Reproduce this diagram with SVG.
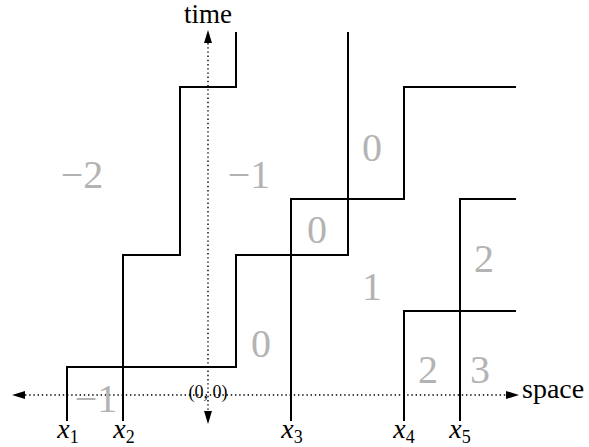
<svg xmlns="http://www.w3.org/2000/svg" width="589" height="447" viewBox="0 0 589 447">
<style>
.ln{fill:none;stroke:#000;stroke-width:2;stroke-linejoin:miter;stroke-linecap:butt}
.ax{fill:none;stroke:#000;stroke-width:1.4;stroke-dasharray:1.4 2.8}
.ah{fill:#000}
text{font-family:'Liberation Serif','Times New Roman',serif}
.t{fill:#000}
.g{fill:#b3b3b3;font-size:40px;text-anchor:middle}
.xl{fill:#000;font-size:28px;text-anchor:middle}
</style>
<rect width="589" height="447" fill="#fff"/>
<g id="axes">
<line class="ax" x1="25" y1="395" x2="506" y2="395"/>
<line class="ax" x1="208" y1="43" x2="208" y2="411"/>
<polygon class="ah" points="12,395 25,391 25,399"/>
<polygon class="ah" points="519,395 506,391 506,399"/>
<polygon class="ah" points="208,30 204,43 212,43"/>
<polygon class="ah" points="208,424 204,411 212,411"/>
<text class="t" x="208" y="23" font-size="27" text-anchor="middle">time</text>
<text class="t" x="522" y="398" font-size="28">space</text>
<text class="t" x="208" y="398" font-size="18" text-anchor="middle">(0, 0)</text>
</g>
<g id="curves">
<polyline id="c1" class="ln" points="67,421 67,367 236,367 236,255 348,255 348,32"/>
<polyline id="c2" class="ln" points="123,421 123,255 180,255 180,87 236,87 236,32"/>
<polyline id="c3" class="ln" points="291,421 291,199 404,199 404,87 516,87"/>
<polyline id="c4" class="ln" points="404,421 404,311 516,311"/>
<polyline id="c5" class="ln" points="460,421 460,199 516,199"/>
</g>
<g id="regions">
<text class="g" x="82" y="188">−2</text>
<text class="g" x="249" y="188">−1</text>
<text class="g" x="372" y="161">0</text>
<text class="g" x="317" y="243">0</text>
<text class="g" x="372" y="300">1</text>
<text class="g" x="484" y="272">2</text>
<text class="g" x="261" y="357">0</text>
<text class="g" x="428" y="383">2</text>
<text class="g" x="480" y="383">3</text>
<text class="g" x="96" y="412" font-size="38">−1</text>
</g>
<g id="labels">
<text class="xl" x="68" y="438"><tspan font-style="italic">x</tspan><tspan font-size="18" dy="5">1</tspan></text>
<text class="xl" x="124" y="438"><tspan font-style="italic">x</tspan><tspan font-size="18" dy="5">2</tspan></text>
<text class="xl" x="292" y="438"><tspan font-style="italic">x</tspan><tspan font-size="18" dy="5">3</tspan></text>
<text class="xl" x="404" y="438"><tspan font-style="italic">x</tspan><tspan font-size="18" dy="5">4</tspan></text>
<text class="xl" x="460" y="438"><tspan font-style="italic">x</tspan><tspan font-size="18" dy="5">5</tspan></text>
</g>
</svg>
